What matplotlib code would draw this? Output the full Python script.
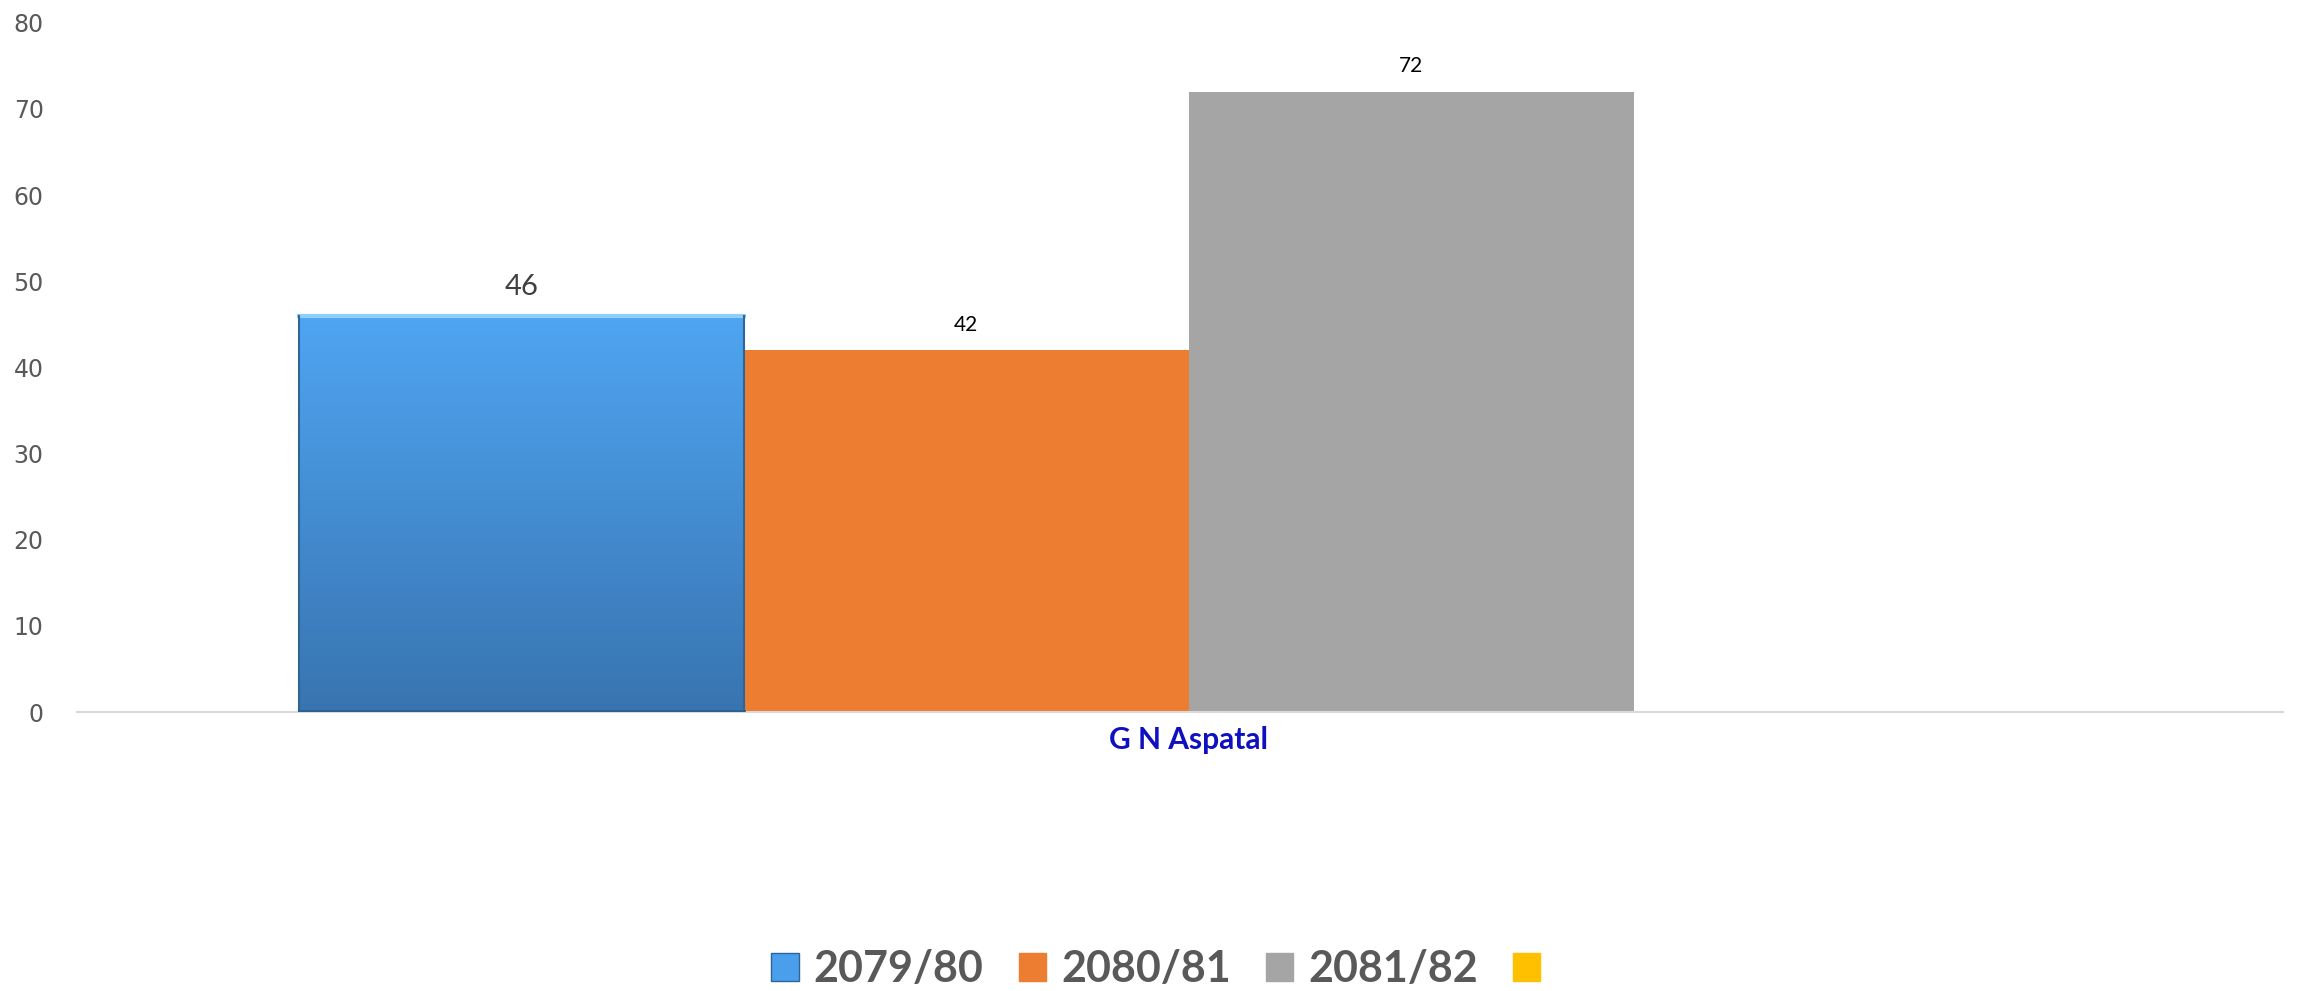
import numpy as np
import matplotlib
matplotlib.use('Agg')
import matplotlib.pyplot as plt
from matplotlib.patches import Patch
from matplotlib.colors import LinearSegmentedColormap

# data
category = "G N Aspatal"
series = ["2079/80", "2080/81", "2081/82", ""]
values = [46, 42, 72]          # fourth series has no bar
colors = ["#4A9FEC", "#ED7D31", "#A5A5A5", "#FFC000"]
label_sizes = [21, 15, 15]
label_colors = ["#404040", "#000000", "#000000"]
yticks = [0, 10, 20, 30, 40, 50, 60, 70, 80]

fig = plt.figure(figsize=(23.13, 9.91), dpi=100)
ax = fig.add_axes([0.0333, 0.2815, 0.9537, 0.6955])

w = 0.2017
n = len(series)
offsets = (np.arange(n) - (n - 1) / 2) * w

bars = []
for i, v in enumerate(values):
    b = ax.bar(offsets[i], v, width=w, color=colors[i], zorder=2)[0]
    bars.append(b)

# blue bar: vertical gradient + bevel look
blue = bars[0]
blue.set_facecolor("none")
cmap = LinearSegmentedColormap.from_list("bl", ["#3874B0", "#4FA5F2"])
grad = np.linspace(0, 1, 256).reshape(-1, 1)
x0 = offsets[0] - w / 2
im = ax.imshow(grad, cmap=cmap, aspect="auto", origin="lower",
               extent=[x0, x0 + w, 0, values[0]], zorder=2)
im.set_clip_path(blue)
ax.plot([x0, x0 + w], [values[0], values[0]], color="#8FD0FA", lw=3, zorder=3)
ax.plot([x0, x0], [0, values[0]], color="#2F6496", lw=1.5, zorder=3)
ax.plot([x0 + w, x0 + w], [0, values[0]], color="#2F6496", lw=1.5, zorder=3)
ax.plot([x0, x0 + w], [0.15, 0.15], color="#2E5F8E", lw=2, zorder=3)

# data labels
for i, v in enumerate(values):
    ax.annotate(str(v), (offsets[i], v), textcoords="offset points",
                xytext=(0, 11), ha="center", va="bottom",
                fontsize=label_sizes[i], color=label_colors[i], family="Lato")

ax.set_xlim(-0.504, 0.496)
ax.set_ylim(0, 80)
ax.set_yticks(yticks)
ax.set_xticks([0])
ax.set_xticklabels([category], fontsize=21.5, fontweight="bold",
                   color="#1010C0", family="Lato")
ax.tick_params(axis="y", length=0, labelsize=17, labelcolor="#595959", pad=24)
ax.tick_params(axis="x", length=0, pad=10)
for s in ["top", "right", "left"]:
    ax.spines[s].set_visible(False)
ax.spines["bottom"].set_color("#D9D9D9")
ax.spines["bottom"].set_linewidth(1.5)

handles = [Patch(facecolor=c, edgecolor="#2F6496" if i == 0 else c)
           for i, c in enumerate(colors)]
fig.legend(handles, series, loc="center", bbox_to_anchor=(0.503, 0.022),
           ncol=4, frameon=False, handlelength=0.63, handleheight=0.63,
           handletextpad=0.35, columnspacing=0.82,
           prop={"family": "Lato", "weight": "bold", "size": 31},
           labelcolor="#595959")

fig.savefig("out.png", dpi=100)
